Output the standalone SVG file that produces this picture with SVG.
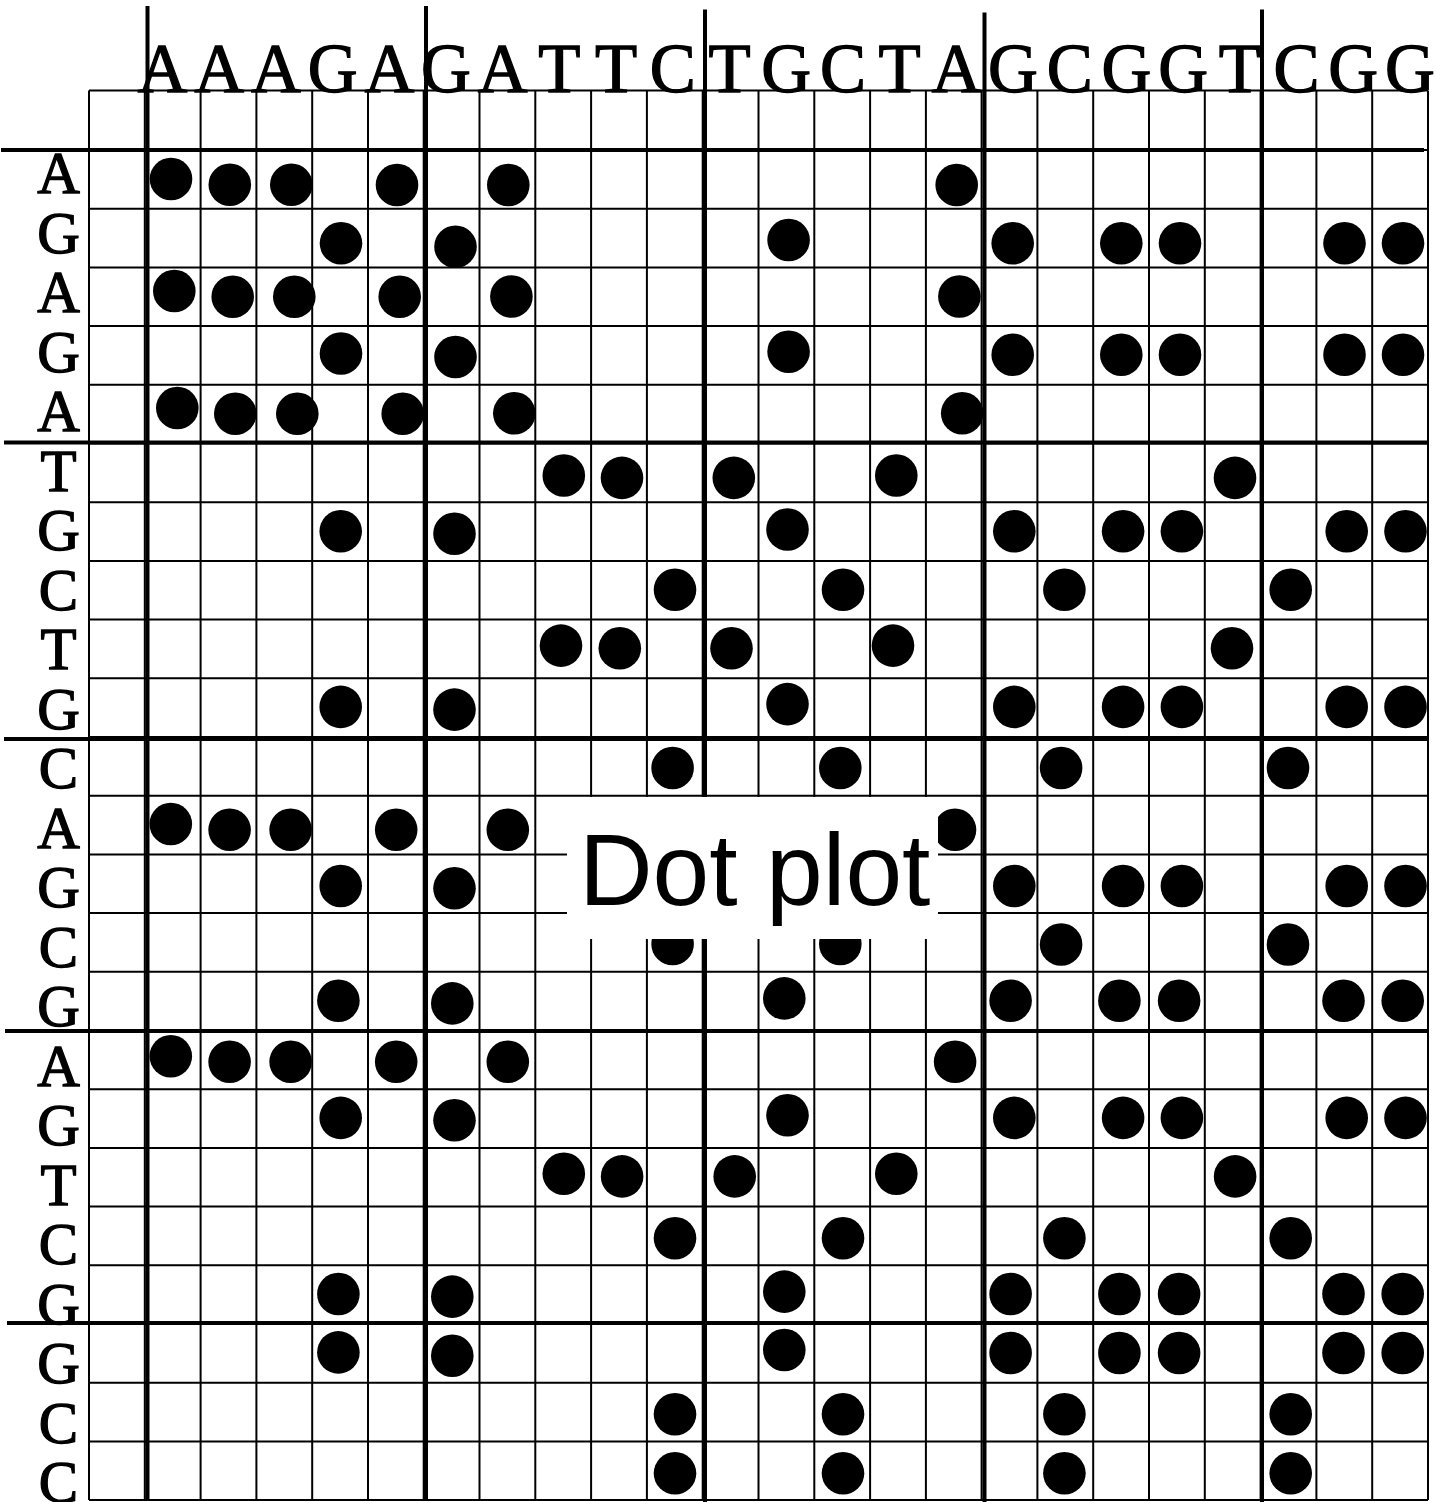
<svg xmlns="http://www.w3.org/2000/svg" width="1437" height="1502" viewBox="0 0 1437 1502">
<style>
.thin{stroke:#000;stroke-width:2;fill:none}
.thick{stroke:#000;stroke-width:4;fill:none}
.seq{font-family:"Liberation Serif","Times New Roman",serif;fill:#000;stroke:#000;stroke-width:1.3;text-anchor:middle}
.top{font-size:69px}
.left{font-size:59px}
.dot{fill:#000}
.title{font-family:"Liberation Sans",Arial,sans-serif;font-size:102px;fill:#000;text-anchor:middle}
</style>
<defs>
<circle id="d" r="21.3"/>
</defs>
<rect width="1437" height="1502" fill="#fff"/>
<g id="grid">
<path class="thin" d="M89 90.5H1428M89 150H1428M89 208.7H1428M89 267.4H1428M89 326.1H1428M89 384.8H1428M89 443.5H1428M89 502.2H1428M89 560.9H1428M89 619.6H1428M89 678.3H1428M89 737H1428M89 795.7H1428M89 854.4H1428M89 913.1H1428M89 971.8H1428M89 1030.5H1428M89 1089.2H1428M89 1147.9H1428M89 1206.6H1428M89 1265.3H1428M89 1324H1428M89 1382.7H1428M89 1441.4H1428M89 1500H1428"/>
<path class="thin" d="M89 90.5V1500M144.8 90.5V1500M200.6 90.5V1500M256.4 90.5V1500M312.2 90.5V1500M368 90.5V1500M423.7 90.5V1500M479.5 90.5V1500M535.3 90.5V1500M591.1 90.5V1500M646.9 90.5V1500M702.7 90.5V1500M758.5 90.5V1500M814.3 90.5V1500M870.1 90.5V1500M925.9 90.5V1500M981.6 90.5V1500M1037.4 90.5V1500M1093.2 90.5V1500M1149 90.5V1500M1204.8 90.5V1500M1260.6 90.5V1500M1316.4 90.5V1500M1372.2 90.5V1500M1428 90.5V1500"/>
</g>
<g id="dividers">
<path class="thick" d="M147.5 6V1499M426 6V1499M705 9.5V1502M984.5 12.5V1502M1262 9.5V1502"/>
<path class="thick" d="M1 150H1424M4 442.5H1427M4 739H1428M5 1031H1428M7 1323H1429"/>
</g>
<g id="top-sequence">
<text class="seq top" y="92" x="162.5 219.2 275.9 332.6 389.3 446 502.7 559.4 616.1 672.8 729.5 786.2 842.9 899.6 956.3 1013 1069.7 1126.4 1183.1 1239.8 1296.5 1353.2 1409.9">AAAGAGATTCTGCTAGCGGTCGG</text>
</g>
<g id="left-sequence" class="seq left">
<text x="58.5" y="193">A</text>
<text x="58.5" y="252.5">G</text>
<text x="58.5" y="312">A</text>
<text x="58.5" y="371.5">G</text>
<text x="58.5" y="431">A</text>
<text x="58.5" y="490.5">T</text>
<text x="58.5" y="550">G</text>
<text x="58.5" y="609.5">C</text>
<text x="58.5" y="669">T</text>
<text x="58.5" y="728.5">G</text>
<text x="58.5" y="788">C</text>
<text x="58.5" y="847.5">A</text>
<text x="58.5" y="907">G</text>
<text x="58.5" y="966.5">C</text>
<text x="58.5" y="1026">G</text>
<text x="58.5" y="1085.5">A</text>
<text x="58.5" y="1145">G</text>
<text x="58.5" y="1204.5">T</text>
<text x="58.5" y="1264">C</text>
<text x="58.5" y="1323.5">G</text>
<text x="58.5" y="1383">G</text>
<text x="58.5" y="1442.5">C</text>
<text x="58.5" y="1502">C</text>
</g>
<g id="dots" class="dot">
<!-- row 1 A -->
<use href="#d" x="171" y="179"/><use href="#d" x="229.8" y="184.7"/><use href="#d" x="291.3" y="184.7"/><use href="#d" x="397" y="185"/><use href="#d" x="508.3" y="185"/><use href="#d" x="956.7" y="185"/>
<!-- row 2 G -->
<use href="#d" x="341" y="243.3"/><use href="#d" x="455.5" y="246.7"/><use href="#d" x="788.6" y="240"/><use href="#d" x="1012.7" y="243.3"/><use href="#d" x="1121.3" y="243.3"/><use href="#d" x="1180" y="243.3"/><use href="#d" x="1344.5" y="243.3"/><use href="#d" x="1403" y="243.3"/>
<!-- row 3 A -->
<use href="#d" x="174.3" y="291"/><use href="#d" x="232.7" y="296.7"/><use href="#d" x="294.3" y="296.7"/><use href="#d" x="399.7" y="296.7"/><use href="#d" x="511.4" y="296.5"/><use href="#d" x="959.4" y="296.5"/>
<!-- row 4 G -->
<use href="#d" x="341" y="353.5"/><use href="#d" x="455.5" y="357"/><use href="#d" x="788.6" y="351.7"/><use href="#d" x="1012.7" y="354.7"/><use href="#d" x="1121.3" y="354.7"/><use href="#d" x="1180" y="354.7"/><use href="#d" x="1344.5" y="354.7"/><use href="#d" x="1403" y="354.7"/>
<!-- row 5 A -->
<use href="#d" x="177.3" y="408"/><use href="#d" x="235.3" y="413.7"/><use href="#d" x="297.3" y="413.7"/><use href="#d" x="402.7" y="413.7"/><use href="#d" x="514.3" y="413.3"/><use href="#d" x="962.2" y="413.3"/>
<!-- row 6 T -->
<use href="#d" x="563.8" y="475.5"/><use href="#d" x="622" y="477.9"/><use href="#d" x="733.8" y="477.9"/><use href="#d" x="896.3" y="475.5"/><use href="#d" x="1235" y="477.9"/>
<!-- row 7 G -->
<use href="#d" x="340.7" y="531.3"/><use href="#d" x="454.5" y="533.7"/><use href="#d" x="787.5" y="529.5"/><use href="#d" x="1014.3" y="531.3"/><use href="#d" x="1123.1" y="531.3"/><use href="#d" x="1181.9" y="531.3"/><use href="#d" x="1346.7" y="531.3"/><use href="#d" x="1405.5" y="531.3"/>
<!-- row 8 C -->
<use href="#d" x="675" y="589.8"/><use href="#d" x="843" y="589.8"/><use href="#d" x="1064.4" y="589.8"/><use href="#d" x="1290.7" y="589.8"/>
<!-- row 9 T -->
<use href="#d" x="561" y="645.6"/><use href="#d" x="619.8" y="648.3"/><use href="#d" x="731.5" y="648.3"/><use href="#d" x="893" y="645.6"/><use href="#d" x="1232" y="648.3"/>
<!-- row 10 G -->
<use href="#d" x="340.7" y="706.9"/><use href="#d" x="454.5" y="709.6"/><use href="#d" x="787.5" y="704.1"/><use href="#d" x="1014.3" y="706.9"/><use href="#d" x="1123.1" y="706.9"/><use href="#d" x="1181.9" y="706.9"/><use href="#d" x="1346.7" y="706.9"/><use href="#d" x="1405.5" y="706.9"/>
<!-- row 11 C -->
<use href="#d" x="672.6" y="768"/><use href="#d" x="840.3" y="768"/><use href="#d" x="1061.1" y="768"/><use href="#d" x="1288" y="768"/>
<!-- row 12 A -->
<use href="#d" x="170.8" y="824"/><use href="#d" x="229.6" y="829.8"/><use href="#d" x="290.6" y="829.8"/><use href="#d" x="396.2" y="829.8"/><use href="#d" x="507.8" y="829.8"/><use href="#d" x="955" y="829.8"/>
<!-- row 13 G -->
<use href="#d" x="340.7" y="886"/><use href="#d" x="454.5" y="888.3"/><use href="#d" x="787.5" y="884"/><use href="#d" x="1014.3" y="886"/><use href="#d" x="1123.1" y="886"/><use href="#d" x="1181.9" y="886"/><use href="#d" x="1346.7" y="886"/><use href="#d" x="1405.5" y="886"/>
<!-- row 14 C -->
<use href="#d" x="672.6" y="944"/><use href="#d" x="840.3" y="944"/><use href="#d" x="1061.1" y="944.5"/><use href="#d" x="1288" y="944.5"/>
<!-- row 15 G -->
<use href="#d" x="338.4" y="1000.7"/><use href="#d" x="452.3" y="1003.4"/><use href="#d" x="784.3" y="998.4"/><use href="#d" x="1010.6" y="1000.7"/><use href="#d" x="1119.4" y="1000.7"/><use href="#d" x="1179.1" y="1000.7"/><use href="#d" x="1343.5" y="1000.7"/><use href="#d" x="1402.7" y="1000.7"/>
<!-- row 16 A -->
<use href="#d" x="170.8" y="1056.2"/><use href="#d" x="229.6" y="1061.8"/><use href="#d" x="290.6" y="1061.8"/><use href="#d" x="396.2" y="1061.8"/><use href="#d" x="507.8" y="1061.8"/><use href="#d" x="955.1" y="1061.8"/>
<!-- row 17 G -->
<use href="#d" x="340.7" y="1117.9"/><use href="#d" x="454.5" y="1120.3"/><use href="#d" x="787.5" y="1115.3"/><use href="#d" x="1014.3" y="1117.9"/><use href="#d" x="1123.1" y="1117.9"/><use href="#d" x="1181.9" y="1117.9"/><use href="#d" x="1346.7" y="1117.9"/><use href="#d" x="1405.5" y="1117.9"/>
<!-- row 18 T -->
<use href="#d" x="563.8" y="1173.7"/><use href="#d" x="622.1" y="1176.4"/><use href="#d" x="734.7" y="1176.4"/><use href="#d" x="896.3" y="1173.7"/><use href="#d" x="1235.1" y="1176.4"/>
<!-- row 19 C -->
<use href="#d" x="675" y="1238.2"/><use href="#d" x="843" y="1238.2"/><use href="#d" x="1064.4" y="1238.2"/><use href="#d" x="1290.7" y="1238.2"/>
<!-- row 20 G -->
<use href="#d" x="338.4" y="1294"/><use href="#d" x="452.3" y="1296.6"/><use href="#d" x="784.3" y="1291.6"/><use href="#d" x="1010.6" y="1294"/><use href="#d" x="1119.4" y="1294"/><use href="#d" x="1179.1" y="1294"/><use href="#d" x="1343.5" y="1294"/><use href="#d" x="1402.7" y="1294"/>
<!-- row 21 G -->
<use href="#d" x="338.4" y="1352.4"/><use href="#d" x="452.3" y="1355.7"/><use href="#d" x="784.3" y="1350"/><use href="#d" x="1010.6" y="1353"/><use href="#d" x="1119.4" y="1353"/><use href="#d" x="1179.1" y="1353"/><use href="#d" x="1343.5" y="1353"/><use href="#d" x="1402.7" y="1353"/>
<!-- row 22 C -->
<use href="#d" x="675" y="1414.2"/><use href="#d" x="843" y="1414.2"/><use href="#d" x="1064.4" y="1414.2"/><use href="#d" x="1290.7" y="1414.2"/>
<!-- row 23 C -->
<use href="#d" x="675" y="1473.3"/><use href="#d" x="843" y="1473.3"/><use href="#d" x="1064.4" y="1473.3"/><use href="#d" x="1290.7" y="1473.3"/>
</g>
<g id="label">
<rect x="567" y="797" width="371" height="142" fill="#fff"/>
<text class="title" x="754.7" y="905">Dot plot</text>
</g>
</svg>
